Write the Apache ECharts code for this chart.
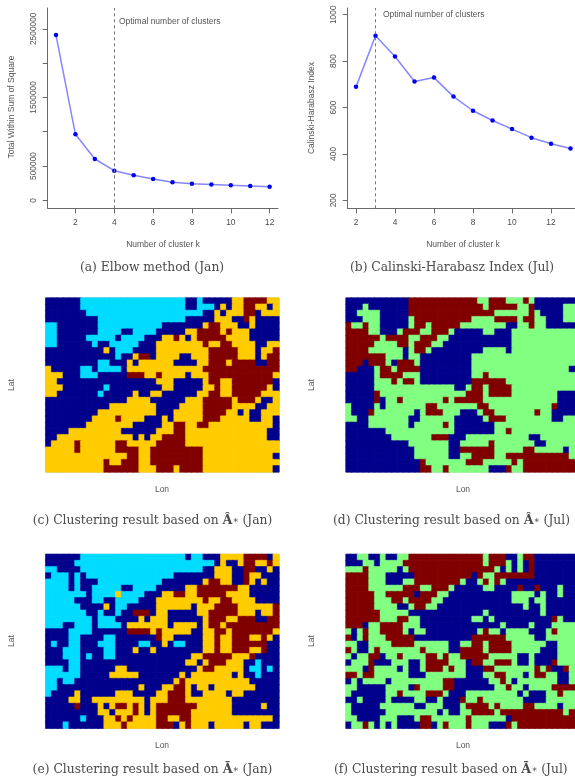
<!DOCTYPE html>
<html><head><meta charset="utf-8">
<style>html,body{margin:0;padding:0;background:#fff;overflow:hidden}#c{width:575px;height:783px;filter:blur(0.45px)}</style>
<script src="https://cdn.jsdelivr.net/npm/echarts@6/dist/echarts.min.js"></script>
</head><body><div id="c"></div>
<script>
// ---- line chart data
const elbowK = [1,2,3,4,5,6,7,8,9,10,11,12];
const elbowWss = [2409000,962000,602000,432000,364000,310000,262000,242000,230000,218000,208000,198000];
const chK = [2,3,4,5,6,7,8,9,10,11,12,13];
const chIndex = [689,909,820,712,729,647,586,544,507,470,444,423];
const elbowOptimal = 4, chOptimal = 3;
const elbowXTicks = [2,4,6,8,10,12];
const elbowYTicks = [0,500000,1000000,1500000,2000000,2500000];
const elbowYLabels = [0,500000,1500000,2500000];
const chXTicks = [2,4,6,8,10,12];
const chYTicks = [200,400,600,800,1000];
// ---- cluster maps: run-length rows, 40 columns x 28 rows, top row first
const mapC = [
"6B 18C 2B 1C 5B 2Y 4R 2Y","6B 18C 2B 3C 1B 1Y 1B 2Y 2R 2Y 1B 1Y","7B 20C 2B 1Y 1B 3Y 2R 1B 3Y",
"9B 15C 5B 3Y 2B 1R 1Y 4B","2C 7B 11C 7B 1Y 2R 3Y 2B 1Y 4B","2C 7B 4C 2B 4C 5B 2Y 4R 1Y 1R 3Y 5B",
"2C 5B 5C 1B 4C 3B 2Y 1R 1Y 1B 1Y 5R 4Y 5B","2C 6B 1C 2B 5C 3B 8Y 1R 2Y 2R 4Y 2B 2Y",
"10B 1Y 1B 3C 4B 9Y 5R 3Y 1B 2Y 1R","12B 1C 2B 1Y 2R 1B 4Y 2B 3Y 5R 3Y 1B 1Y 2R",
"9B 2C 3B 1Y 1B 6Y 4B 2Y 3R 1Y 4R 2B 2R","1Y 5B 2C 1B 4C 1B 13Y 13R",
"3Y 3B 3C 5B 3R 2Y 1R 4Y 1B 3Y 11R 1Y","2Y 17B 3Y 5B 1Y 2R 2Y 7R 1B",
"3Y 7B 1C 9B 2Y 5B 2Y 1R 2Y 6R 1Y 1B","2Y 7B 1C 5B 1Y 2B 2Y 6B 2Y 2R 2Y 5R 3Y",
"14B 4Y 6B 3Y 5R 1Y 3R 1Y 2B 1Y","11B 8Y 4B 4Y 5R 4Y 2B 2Y",
"9B 10Y 3B 5Y 4R 2Y 1B 1Y 2B 3Y","8B 4Y 1R 4Y 3B 1Y 1B 5Y 3R 5Y 2B 2Y 1B",
"7B 8Y 5B 2Y 2R 2Y 2R 11Y 1B","4B 9Y 6B 3Y 2R 14Y 2B","2B 13Y 1B 1Y 1B 2Y 4R 14Y 2B",
"1B 4Y 1R 6Y 2R 5Y 5R 16Y","5Y 1R 6Y 4R 2Y 9R 13Y","14Y 2R 2Y 9R 12Y 1B",
"10Y 1R 2Y 3R 2Y 9R 13Y","10Y 6R 3Y 3R 1Y 4R 12Y 1B"];
const mapD = [
"11B 12R 2G 3R 3G 1R 1G 7B","3B 1G 7B 13R 1G 5R 2G 1R 5B 2G","2B 4G 5B 15R 6G 1R 1G 4B 2G",
"3B 3G 5B 1G 10R 4G 4R 1G 2R 2G 3B 2G","1R 2G 1R 2G 5B 1G 2R 1G 5R 8G 2B 2G 1R 2G 5B",
"4R 2G 3B 1G 3R 2G 3R 1G 5B 2G 3B 11G","6R 1G 4R 2G 3R 2G 11B 11G","5R 4G 2R 1G 3R 2G 12B 11G",
"4R 6G 1B 1G 2R 1G 9B 4G 1B 11G","7R 3G 1B 2G 9B 18G","3R 1B 3R 1G 1B 3R 1G 9B 18G",
"2R 3B 1G 2R 1G 4R 9B 17G 1B","5B 1G 4R 3G 9B 2G 1R 15G","5B 3G 1R 1G 2R 1G 9B 6R 12G",
"5B 14G 2B 1G 2R 1G 4R 11G","5B 1R 15G 3R 1G 4R 8G 3B","5B 1R 1B 2G 1R 7G 1R 1G 5R 13G 3B",
"1G 4B 1G 1B 7G 2R 7G 2R 11G 1R 3B","1G 3B 1R 7G 1B 1G 3R 3G 3B 1G 2R 7G 1R 2G 4B",
"2G 2B 7G 2B 6G 5B 1G 3R 8G 2B 2G","4B 7G 1B 5G 1R 1G 7B 14G","7B 12G 7B 2G 1R 11G",
"8B 7G 3R 3B 11G 2B 6G","11B 7G 2B 5G 1R 7G 2B 5G","12B 6G 2B 6R 5G 2R 5G 1B 1G",
"12B 6G 2B 2G 4R 2G 11R 1G","13B 1R 7G 3R 5G 1R 1G 9R","13B 2R 2G 1R 7G 3B 1R 2G 9R"];
const mapE = [
"6B 18C 1B 2C 3B 4Y 4R 1B 1Y","5B 24C 1B 1Y 2B 1Y 2R 2Y 1R 1Y","2C 4B 21C 2B 3Y 2B 2R 2B 1Y 1B",
"1B 3C 1B 1C 1B 15C 7B 3Y 2B 1R 2Y 3B","4C 1B 1C 3B 11C 7B 1Y 2R 2Y 2B 1R 1Y 1B 1Y 2B",
"4C 1B 1C 2B 5C 2B 4C 5B 2Y 7R 2Y 5B","7C 1B 4C 1Y 4C 3B 2Y 2R 2Y 5R 4Y 5B",
"5C 3B 2C 2B 4C 3B 8Y 1R 2Y 2R 4Y 4B","6C 4B 1Y 1B 2C 5B 6Y 1B 3Y 4R 6Y 1R",
"7C 2B 1C 2B 1C 2B 3R 1B 2Y 5B 2Y 5R 3Y 1B 2Y 1R","8C 1B 3C 4B 1Y 1B 3Y 6B 1Y 3R 2Y 3R 2B 2R",
"3C 2B 3C 1B 4C 1B 7Y 1B 4Y 1B 1Y 2R 1Y 9R","4B 4C 6B 4R 1Y 1R 5Y 2B 2Y 2R 1Y 7R 1Y",
"4B 2C 4B 2C 7B 1R 2Y 5B 2Y 1R 2Y 3R 2Y 1R 1Y 1B","1B 1C 2B 2C 3B 3C 4B 2C 2B 1Y 1B 2C 3B 2Y 1R 2Y 6R 2B",
"3B 3C 4B 2C 3B 1Y 2B 1Y 8B 2Y 1R 2Y 3R 2Y 1R 2B","3B 3C 1B 1C 2B 2C 13B 2Y 5R 3Y 1R 4B",
"4B 2C 18B 2Y 1B 1Y 3R 3Y 2B 1C 3B","3C 1B 2C 6B 2Y 12B 1Y 2R 5Y 1B 2C 1B 1C 1B",
"6C 5B 5Y 7B 1Y 1B 7Y 1B 1Y 2B 1C 3B","2C 1B 2C 17B 1Y 1R 11Y 5B",
"2C 14B 1Y 3B 2Y 2R 1Y 1B 2Y 1B 7Y 4B","1C 4B 1Y 6B 3Y 4B 2Y 3R 1Y 2B 4Y 1B 2Y 6B",
"4B 2Y 2B 9Y 1B 3Y 3R 8Y 8B","5B 1R 3B 1Y 1B 1Y 2R 1Y 1R 1Y 1B 1Y 7R 6Y 5B 1Y 2B",
"9B 2Y 1B 3Y 1R 1Y 1B 1Y 6R 7Y 8B","6B 1C 3B 2Y 1R 1Y 1R 4Y 2R 2Y 2R 14Y 1B",
"3B 1C 6B 3Y 1R 5Y 3R 1B 1Y 1R 3Y 1B 5Y 1B 2Y 3B"];
const mapF = [
"2B 2G 2B 1G 2B 2G 13R 1G 3R 2B 1G 2R 7B","3B 2G 1B 4G 14R 1G 3R 1G 1B 1G 1B 1R 7B",
"3G 1R 5G 1B 1G 15R 1G 1B 1G 1B 1G 1B 1R 7B","4R 3G 5B 10R 1B 1R 2G 7R 7B",
"4R 3G 3B 2G 8R 1G 2B 1G 1R 1G 1R 1G 12B","4R 6G 3R 2G 3R 1G 5B 2G 4B 1R 2B 1R 3B 1G 2B",
"5R 2G 5R 1B 3R 2G 11B 4G 1B 1G 2B 1G 2B","5R 3G 2R 1G 4R 2G 12B 3G 1B 2G 5B",
"5R 4G 2B 1G 2R 2G 15B 1G 2B 1G 5B","6R 5G 13B 1G 9B 1G 5B","6R 3G 2R 2G 9B 2G 1B 1G 1B 9B 1R 1G 2B",
"3R 1B 2G 4R 3G 14B 1G 4B 1G 3B 4G","1G 1B 1G 1R 2G 4R 1G 1B 2G 9B 1G 1R 2G 1B 4G 3B 1G 1R 3G",
"1R 1B 1G 1R 3G 5R 10B 6R 5G 2B 5G","2G 2B 4G 4R 6G 2B 2G 2R 1G 4R 6G 2B 3G",
"1R 1G 2B 1G 1R 7G 1R 4G 2B 4R 1G 4R 5G 3B 3G","1G 1B 2G 2R 1B 2G 1R 4G 2R 1G 1R 2G 5R 5G 2B 1G 4B 3G",
"1B 3G 1R 3B 3G 2B 1G 4R 3G 1B 2R 2G 3R 1G 2B 1G 3B 1R 3G","3G 1B 1R 4G 1B 1G 2B 1G 3R 1G 1R 2G 3B 2R 7G 1R 1G 1R 2B 1R 1G",
"2R 1G 2R 6G 3B 7G 3B 2G 2R 3G 1B 1G 2R 2G 2B 1G","1B 1G 1B 4G 1B 9G 2R 6B 2G 1R 1G 1B 7G 2B 1G",
"2G 5B 4G 1B 1R 4G 2R 7B 2G 1R 2G 1B 4G 4R","1G 6B 2G 1R 4G 3R 1G 3B 9G 1B 1G 3B 2G 1R 2G",
"2B 1G 4B 1G 4B 2G 2B 1G 3B 1R 2G 1R 7G 4B 5G","1G 5B 6G 2B 3G 3B 1G 4R 1G 1R 4G 2R 4G 1B 2G",
"1G 6B 9G 1B 1G 2B 2G 4R 1G 11R 1G 1R","2G 4B 3G 3B 1G 2R 6G 1R 6G 1B 11R",
"1B 2G 1R 1G 1B 1G 1B 1G 4B 2R 1B 1G 1R 3G 1R 3G 3B 1R 1G 10R"];

const clusterCodes = {B:0,C:1,Y:2,R:3,G:4};
const clusterColors = {B:'#00008c',C:'#00dcff',Y:'#ffcc00',R:'#800000',G:'#80ff80'};
function decode(rows){
  const out=[];
  rows.forEach((row,r)=>{
    let c=0;
    row.split(' ').forEach(run=>{
      const n=parseInt(run),k=run.slice(-1),col=clusterColors[k];
      for(let i=0;i<n;i++) out.push({value:[c++,r,clusterCodes[k]],itemStyle:{color:col,borderColor:col,borderWidth:0.5}});
    });
  });
  return out;
}
const idx=n=>Array.from({length:n},(_,i)=>i);

const SANS='"Liberation Sans",Arial,sans-serif', SERIF='"DejaVu Serif",serif';
const axisColor='#6a6a6a', labelColor='#4d4d4d';
const grids=[
 {left:47.7,top:8,width:230.3,height:200.3},
 {left:347.7,top:8,width:227.3,height:200.3},
 {left:45.7,top:298,width:233.3,height:174,show:true,borderColor:'#b5b5b5',borderWidth:1},
 {left:346,top:298,width:233.3,height:174,show:true,borderColor:'#b5b5b5',borderWidth:1},
 {left:45.7,top:554.3,width:233.3,height:174,show:true,borderColor:'#b5b5b5',borderWidth:1},
 {left:346,top:554.3,width:233.3,height:174,show:true,borderColor:'#b5b5b5',borderWidth:1}
];
const plainLabel=v=>String(v);
function valAxis(grid,min,max,ticks,labels,rot){
  return {type:'value',gridIndex:grid,min,max,splitLine:{show:false},
    axisLine:{show:true,onZero:false,lineStyle:{color:axisColor,width:1}},
    axisTick:{show:true,length:5,customValues:ticks,lineStyle:{color:axisColor,width:1}},
    axisLabel:{show:true,customValues:labels,formatter:plainLabel,rotate:rot||0,color:labelColor,fontFamily:SANS,fontSize:8.4,margin:rot?10:10.5,showMinLabel:true,showMaxLabel:true}};
}
function lineSeries(i,xs,ys,opt){
  return {type:'line',xAxisIndex:i,yAxisIndex:i,data:xs.map((x,j)=>[x,ys[j]]),
    symbol:'circle',symbolSize:4.5,showSymbol:true,
    lineStyle:{color:'#8585ff',width:1.5},itemStyle:{color:'#0000f0'},
    markLine:{silent:true,symbol:'none',label:{show:false},
      lineStyle:{color:'#777',type:[3,3],width:1},data:[{xAxis:opt}]}};
}
function heatSeries(i,data){
  return {type:'heatmap',xAxisIndex:i,yAxisIndex:i,data,progressive:0,emphasis:{disabled:true}};
}
const txt=(x,y,s,o)=>({type:'text',x,y,rotation:(o&&o.rot)||0,silent:true,style:Object.assign({text:s,fill:'#555',font:'8.5px '+SANS,textAlign:'center',textVerticalAlign:'middle'},o&&o.style)});
const CAP=12.3;
const capRich={n:{fontFamily:SERIF,fontSize:CAP,color:'#4a4a4a'},
  b:{fontFamily:SERIF,fontSize:CAP+0.5,fontWeight:'bold',color:'#333'},
  s:{fontFamily:SERIF,fontSize:9,color:'#4a4a4a'}};
const cap=(x,y,s,align)=>({type:'text',x,y,silent:true,style:{text:s,rich:capRich,font:CAP+'px '+SERIF,fill:'#4a4a4a',textAlign:align||'center',textVerticalAlign:'middle'}});
const R90=Math.PI/2;

const chart=echarts.init(document.getElementById('c'),null,{renderer:'canvas'});
const catAxis=(g,n,inv)=>({type:'category',gridIndex:g,data:idx(n),show:false,inverse:!!inv});
chart.setOption({
  animation:false,backgroundColor:'#fff',
  grid:grids.map(g=>Object.assign({containLabel:false},g)),
  xAxis:[
    valAxis(0,0.573,12.43,elbowXTicks,elbowXTicks),
    valAxis(1,1.574,13.23,chXTicks,chXTicks),
    catAxis(2,40),catAxis(3,40),catAxis(4,40),catAxis(5,40)],
  yAxis:[
    valAxis(0,-116600,2803000,elbowYTicks,elbowYLabels,90),
    valAxis(1,165.5,1029,chYTicks,chYTicks,90),
    catAxis(2,28,true),catAxis(3,28,true),catAxis(4,28,true),catAxis(5,28,true)],
  series:[
    lineSeries(0,elbowK,elbowWss,elbowOptimal),
    lineSeries(1,chK,chIndex,chOptimal),
    heatSeries(2,decode(mapC)),heatSeries(3,decode(mapD)),heatSeries(4,decode(mapE)),heatSeries(5,decode(mapF))
  ],
  graphic:{elements:[
    txt(119,21.7,'Optimal number of clusters',{style:{textAlign:'left'}}),
    txt(383,14.7,'Optimal number of clusters',{style:{textAlign:'left'}}),
    txt(163,245,'Number of cluster k'),txt(463,245,'Number of cluster k'),
    txt(12,107,'Total Within Sum of Square',{rot:R90}),
    txt(312,108,'Calinski-Harabasz Index',{rot:R90}),
    txt(12,385,'Lat',{rot:R90}),txt(312,385,'Lat',{rot:R90}),
    txt(12,641,'Lat',{rot:R90}),txt(312,641,'Lat',{rot:R90}),
    txt(162,490,'Lon'),txt(463,490,'Lon'),txt(162,746,'Lon'),txt(463,746,'Lon'),
    cap(152,268,'(a) Elbow method (Jan)'),
    cap(452,268,'(b) Calinski-Harabasz Index (Jul)'),
    cap(152.5,521,'{n|(c) Clustering result based on }{b|Â}{s|∗}{n| (Jan)}'),
    cap(333,521,'{n|(d) Clustering result based on }{b|Â}{s|∗}{n| (Jul)}','left'),
    cap(152.5,770,'{n|(e) Clustering result based on }{b|Ã}{s|∗}{n| (Jan)}'),
    cap(334,770,'{n|(f) Clustering result based on }{b|Ã}{s|∗}{n| (Jul)}','left')
  ]}
});
</script></body></html>
